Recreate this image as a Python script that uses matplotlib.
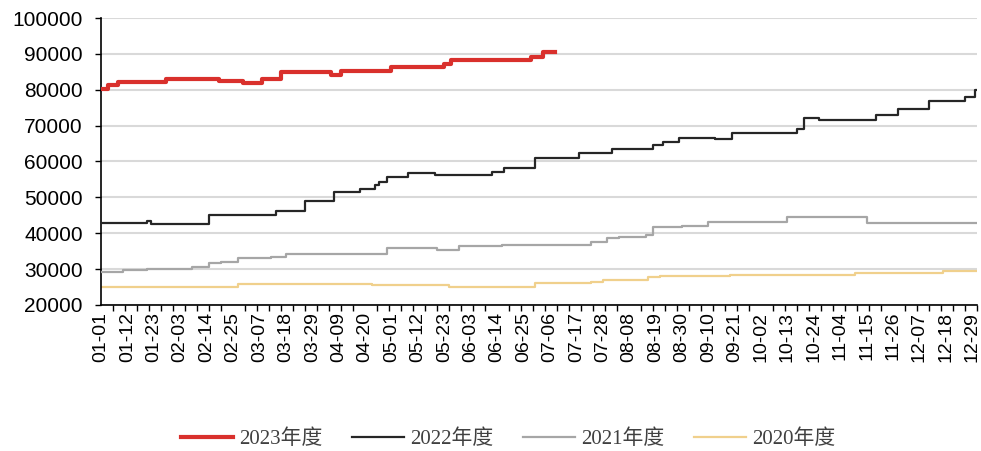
import matplotlib
matplotlib.use('Agg')
import matplotlib.pyplot as plt

plt.rcParams['font.family'] = ['Liberation Sans', 'Noto Sans CJK SC']

# x = day number counted from 01-01 (leap-year calendar, 366 days)
tick_days = list(range(0, 366, 11))
tick_labels = ['01-01', '01-12', '01-23', '02-03', '02-14', '02-25', '03-07', '03-18',
               '03-29', '04-09', '04-20', '05-01', '05-12', '05-23', '06-03', '06-14',
               '06-25', '07-06', '07-17', '07-28', '08-08', '08-19', '08-30', '09-10',
               '09-21', '10-02', '10-13', '10-24', '11-04', '11-15', '11-26', '12-07',
               '12-18', '12-29']

# step series: day where the level changes, and the level from that day on
d2023 = [0, 3, 7, 27, 49, 59, 67, 75, 96, 100, 121, 143, 146, 179, 184, 189]
v2023 = [80200, 81300, 82200, 83000, 82500, 81800, 83000, 85000, 84200, 85300,
         86400, 87200, 88300, 89200, 90500, 90500]

d2022 = [0, 19, 21, 45, 73, 85, 97, 108, 114, 116, 119, 128, 139, 163, 168, 181,
         199, 213, 230, 234, 241, 256, 263, 290, 293, 299, 323, 332, 345, 360, 364, 365]
v2022 = [42700, 43300, 42500, 45100, 46100, 49100, 51500, 52300, 53500, 54400, 55600,
         56700, 56200, 57000, 58300, 61000, 62300, 63500, 64600, 65500, 66600, 66200,
         67800, 69000, 72200, 71600, 73000, 74600, 77000, 78100, 80000, 80000]

d2021 = [0, 9, 19, 38, 45, 50, 57, 71, 77, 119, 140, 149, 167, 204, 211, 216, 227,
         230, 242, 253, 286, 319, 365]
v2021 = [29300, 29600, 29900, 30700, 31600, 32000, 33000, 33400, 34200, 35800, 35300,
         36500, 36700, 37500, 38600, 39000, 39500, 41600, 42100, 43200, 44400, 42700, 42700]

d2020 = [0, 3, 57, 113, 145, 181, 204, 209, 228, 233, 262, 314, 351, 365]
v2020 = [25000, 25100, 25800, 25500, 25000, 26000, 26500, 27000, 27900, 28100, 28200,
         28800, 29400, 29400]

fig = plt.figure(figsize=(9.81, 4.51), dpi=100)
ax = fig.add_axes([0.103, 0.324, 0.893, 0.636])

ax.plot(d2023, v2023, drawstyle='steps-post', color='#D9302C', lw=3, label='2023年度', zorder=5)
ax.plot(d2022, v2022, drawstyle='steps-post', color='#262626', lw=1.6, label='2022年度', zorder=4)
ax.plot(d2021, v2021, drawstyle='steps-post', color='#A6A6A6', lw=1.6, label='2021年度', zorder=3)
ax.plot(d2020, v2020, drawstyle='steps-post', color='#F0D08C', lw=1.6, label='2020年度', zorder=2)

ax.set_ylim(20000, 100000)
ax.set_yticks(range(20000, 100001, 10000))
ax.set_xlim(0, 365)
ax.set_xticks(tick_days)
ax.set_xticklabels(tick_labels, rotation=90)
ax.set_xticks(range(0, 366, 5), minor=True)
ax.tick_params(axis='x', which='major', length=0, pad=5, labelsize=14)
ax.tick_params(axis='x', which='minor', length=4, width=1, direction='out')
ax.tick_params(axis='y', length=4, width=1, labelsize=15, pad=9)

ax.grid(axis='y', color='#D9D9D9', lw=1.5)
ax.set_axisbelow(True)
for s in ['top', 'right']:
    ax.spines[s].set_visible(False)
ax.spines['left'].set_linewidth(1.2)
ax.spines['bottom'].set_linewidth(1.2)

fig.legend(loc='center', bbox_to_anchor=(0.518, 0.026), ncol=4, frameon=False,
           handlelength=2.5, columnspacing=1.4, handletextpad=0.3,
           prop={'family': ['Liberation Serif', 'Noto Sans CJK SC'], 'size': 15},
           labelcolor='#404040')

fig.savefig('out.png', dpi=100)
